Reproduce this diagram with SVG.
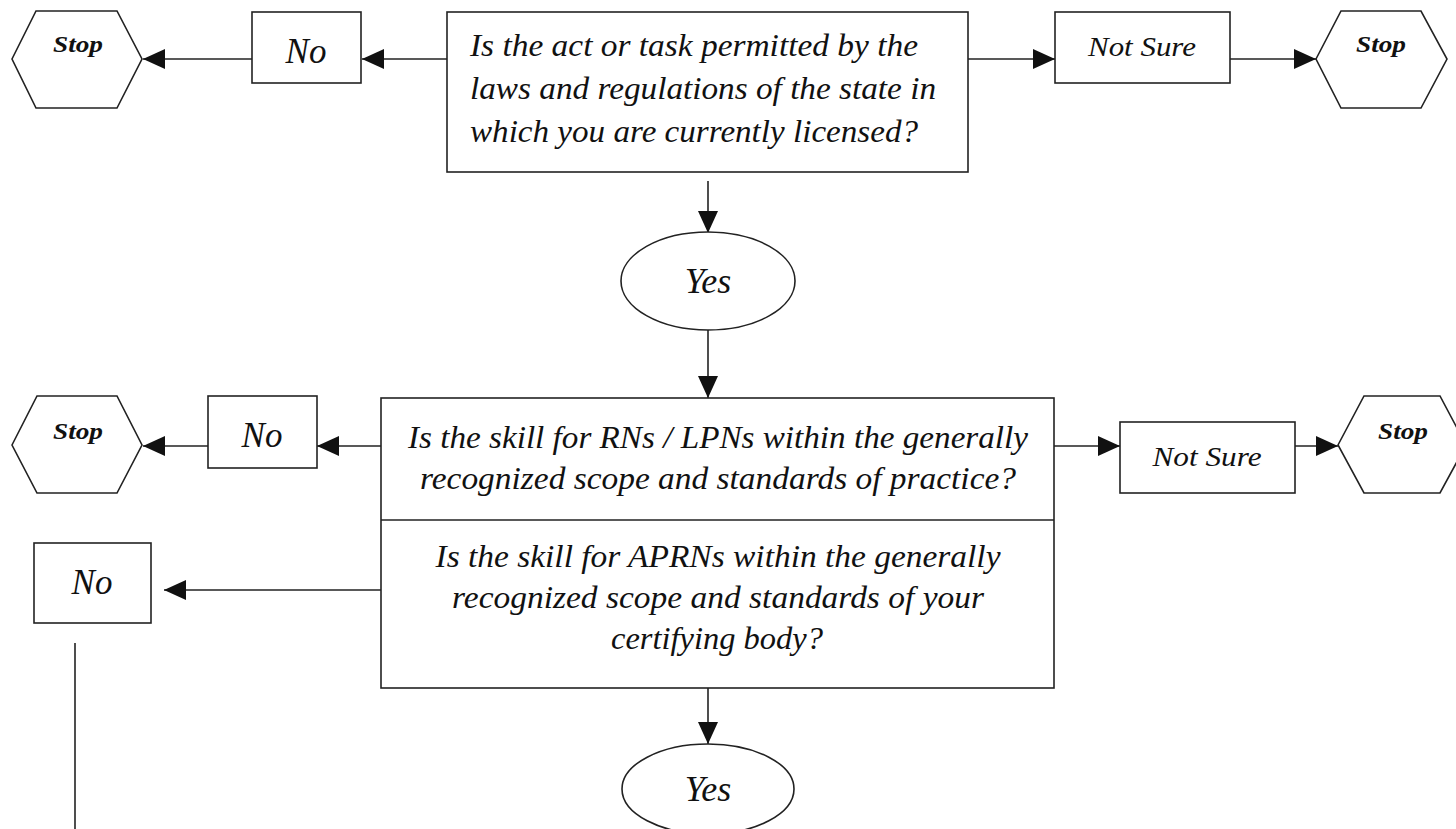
<svg xmlns="http://www.w3.org/2000/svg" width="1456" height="829" viewBox="0 0 1456 829">
<defs>
<style>
.box{fill:#fff;stroke:#222;stroke-width:1.6}
.ln{fill:none;stroke:#222;stroke-width:1.6}
.t{font-family:"Liberation Serif","Times New Roman",serif;font-style:italic;fill:#111}
.q{font-size:32px}
.q2{font-size:31px}
.stop{font-size:24px;font-weight:bold;text-anchor:middle}
.lab{text-anchor:middle}
</style>
<marker id="ah" markerUnits="userSpaceOnUse" markerWidth="24" markerHeight="22" refX="22" refY="10" orient="auto">
<path d="M0,0 L22,10 L0,20 z" fill="#111"/>
</marker>
</defs>
<rect width="1456" height="829" fill="#fff"/>
<g id="connectors">
<line class="ln" x1="447" y1="59" x2="362" y2="59" marker-end="url(#ah)"/>
<line class="ln" x1="252" y1="59" x2="143" y2="59" marker-end="url(#ah)"/>
<line class="ln" x1="968" y1="59" x2="1055" y2="59" marker-end="url(#ah)"/>
<line class="ln" x1="1230" y1="59" x2="1316" y2="59" marker-end="url(#ah)"/>
<line class="ln" x1="708" y1="181" x2="708" y2="233" marker-end="url(#ah)"/>
<line class="ln" x1="708" y1="330" x2="708" y2="398" marker-end="url(#ah)"/>
<line class="ln" x1="381" y1="446" x2="317" y2="446" marker-end="url(#ah)"/>
<line class="ln" x1="208" y1="446" x2="143" y2="446" marker-end="url(#ah)"/>
<line class="ln" x1="381" y1="590" x2="164" y2="590" marker-end="url(#ah)"/>
<line class="ln" x1="75" y1="643" x2="75" y2="829"/>
<line class="ln" x1="1054" y1="446" x2="1120" y2="446" marker-end="url(#ah)"/>
<line class="ln" x1="1295" y1="446" x2="1338" y2="446" marker-end="url(#ah)"/>
<line class="ln" x1="708" y1="688" x2="708" y2="744" marker-end="url(#ah)"/>
</g>
<g id="stop1">
<polygon class="box" points="12,59 36,11 117,11 142,59 117,108 36,108"/>
<text class="t stop" x="78" y="52" textLength="50" lengthAdjust="spacingAndGlyphs">Stop</text>
</g>
<g id="no1">
<rect class="box" x="252" y="12" width="109" height="71"/>
<text class="t lab" x="306" y="63" font-size="35">No</text>
</g>
<g id="q1">
<rect class="box" x="447" y="12" width="521" height="160"/>
<text class="t q" x="470" y="56" textLength="448" lengthAdjust="spacingAndGlyphs">Is the act or task permitted by the</text>
<text class="t q" x="470" y="99" textLength="466" lengthAdjust="spacingAndGlyphs">laws and regulations of the state in</text>
<text class="t q" x="470" y="142" textLength="448" lengthAdjust="spacingAndGlyphs">which you are currently licensed?</text>
</g>
<g id="notsure1">
<rect class="box" x="1055" y="12" width="175" height="71"/>
<text class="t lab" x="1142" y="56" font-size="28" textLength="108" lengthAdjust="spacingAndGlyphs">Not Sure</text>
</g>
<g id="stop2">
<polygon class="box" points="1316,59 1341,11 1421,11 1447,59 1421,108 1341,108"/>
<text class="t stop" x="1381" y="52" textLength="50" lengthAdjust="spacingAndGlyphs">Stop</text>
</g>
<g id="yes1">
<ellipse class="box" cx="708" cy="281" rx="87" ry="49"/>
<text class="t lab" x="708" y="293" font-size="36">Yes</text>
</g>
<g id="stop3">
<polygon class="box" points="12,445 37,396 117,396 142,445 117,493 37,493"/>
<text class="t stop" x="78" y="439" textLength="50" lengthAdjust="spacingAndGlyphs">Stop</text>
</g>
<g id="no2">
<rect class="box" x="208" y="396" width="109" height="72"/>
<text class="t lab" x="262" y="447" font-size="35">No</text>
</g>
<g id="q2">
<rect class="box" x="381" y="398" width="673" height="290"/>
<line class="ln" x1="381" y1="520" x2="1054" y2="520"/>
<text class="t q2 lab" x="718" y="448" textLength="620" lengthAdjust="spacingAndGlyphs">Is the skill for RNs / LPNs within the generally</text>
<text class="t q2 lab" x="718" y="489" textLength="596" lengthAdjust="spacingAndGlyphs">recognized scope and standards of practice?</text>
<text class="t q2 lab" x="718" y="567" textLength="565" lengthAdjust="spacingAndGlyphs">Is the skill for APRNs within the generally</text>
<text class="t q2 lab" x="718" y="608" textLength="532" lengthAdjust="spacingAndGlyphs">recognized scope and standards of your</text>
<text class="t q2 lab" x="717" y="649" textLength="212" lengthAdjust="spacingAndGlyphs">certifying body?</text>
</g>
<g id="notsure2">
<rect class="box" x="1120" y="422" width="175" height="71"/>
<text class="t lab" x="1207" y="466" font-size="28" textLength="109" lengthAdjust="spacingAndGlyphs">Not Sure</text>
</g>
<g id="stop4">
<polygon class="box" points="1338,445 1364,396 1440,396 1466,445 1440,493 1364,493"/>
<text class="t stop" x="1403" y="439" textLength="50" lengthAdjust="spacingAndGlyphs">Stop</text>
</g>
<g id="no3">
<rect class="box" x="34" y="543" width="117" height="80"/>
<text class="t lab" x="92" y="594" font-size="35">No</text>
</g>
<g id="yes2">
<ellipse class="box" cx="708" cy="789" rx="86" ry="45"/>
<text class="t lab" x="708" y="801" font-size="36">Yes</text>
</g>
</svg>
